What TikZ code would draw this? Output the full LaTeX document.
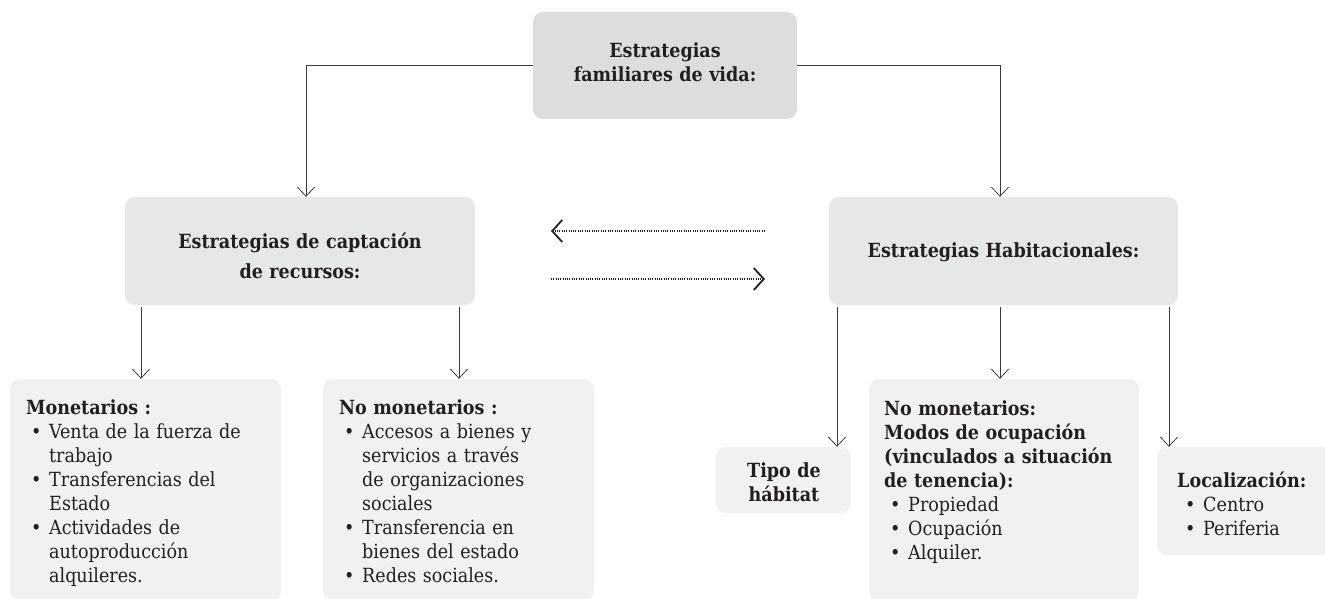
\documentclass[tikz,border=0pt]{standalone}
\usepackage{fontspec}
\setmainfont{DejaVuSerifCondensed.ttf}[BoldFont=DejaVuSerifCondensed-Bold.ttf]
\usetikzlibrary{arrows.meta}
\definecolor{boxA}{HTML}{DCDDDE}
\definecolor{boxB}{HTML}{E6E7E8}
\definecolor{boxC}{HTML}{F1F1F1}
\definecolor{ink}{HTML}{231F20}
\definecolor{linec}{HTML}{3A3A3A}
\newcommand{\bitem}[1]{\makebox[23pt][l]{\hspace*{5pt}\textbullet}#1}
\newcommand{\citem}[1]{\hspace*{23pt}#1}
\begin{document}
\begin{tikzpicture}[x=1pt,y=-1pt,
  boxs/.style={draw=none, rounded corners=10pt, inner sep=0pt},
  txt/.style={inner sep=0pt, text=ink, font=\fontsize{19.5}{24}\selectfont},
  ltxt/.style={txt, text width=265pt, align=left, anchor=base west},
  ctxt/.style={txt, text width=340pt, align=center, anchor=base},
  arr/.style={draw=linec, line width=0.8pt, -{Straight Barb[length=9pt,width=17pt,line width=0.8pt]}},
  dotarr/.style={draw=ink, line width=1.6pt, dash pattern=on 1pt off 1.3pt, -{Straight Barb[length=10pt,width=22pt,line width=1.8pt]}}]
\useasboundingbox (0,0) rectangle (1325,599);
% boxes
\node[boxs, fill=boxA, minimum width=264pt, minimum height=107pt] (top) at (665,65.5) {};
\node[boxs, fill=boxB, minimum width=350pt, minimum height=108pt] (capt) at (300,251) {};
\node[boxs, fill=boxB, minimum width=349pt, minimum height=108pt] (habit) at (1003.5,251) {};
\node[boxs, fill=boxC, minimum width=271pt, minimum height=222pt] (mon) at (145.5,490) {};
\node[boxs, fill=boxC, minimum width=271pt, minimum height=222pt] (nomon) at (458.5,490) {};
\node[boxs, fill=boxC, minimum width=135pt, minimum height=66pt] (tipo) at (783.5,480) {};
\node[boxs, fill=boxC, minimum width=270pt, minimum height=222pt] (modos) at (1004,490) {};
\node[boxs, fill=boxC, minimum width=190pt, minimum height=108pt] (loc) at (1252,501) {};
% texts
\node[ctxt] (ttop) at (665,58) {\bfseries Estrategias\\familiares de vida:};
\node[ctxt, font=\fontsize{19.5}{30}\selectfont] (tcapt) at (300,248) {\bfseries Estrategias de captación\\de recursos:};
\node[ctxt] (thabit) at (1003.5,257) {\bfseries Estrategias Habitacionales:};
\node[ltxt] (tmon) at (26,414) {\textbf{Monetarios :}\\
\bitem{Venta de la fuerza de}\\
\citem{trabajo}\\
\bitem{Transferencias del}\\
\citem{Estado}\\
\bitem{Actividades de}\\
\citem{autoproducción}\\
\citem{alquileres.}};
\node[ltxt] (tnomon) at (339,414) {\textbf{No monetarios :}\\
\bitem{Accesos a bienes y}\\
\citem{servicios a través}\\
\citem{de organizaciones}\\
\citem{sociales}\\
\bitem{Transferencia en}\\
\citem{bienes del estado}\\
\bitem{Redes sociales.}};
\node[ctxt, text width=130pt] (ttipo) at (784,477) {\bfseries Tipo de\\hábitat};
\node[ltxt] (tmodos) at (884,415) {\textbf{No monetarios:}\\
\textbf{Modos de ocupación}\\
\textbf{(vinculados a situación}\\
\textbf{de tenencia):}\\
\hspace*{1pt}\bitem{Propiedad}\\
\hspace*{1pt}\bitem{Ocupación}\\
\hspace*{1pt}\bitem{Alquiler.}};
\node[ltxt, text width=150pt] (tloc) at (1177,487) {\textbf{Localización:}\\
\hspace*{3pt}\bitem{Centro}\\
\hspace*{3pt}\bitem{Periferia}};
% connectors
\draw[arr] (top.west) -| ([xshift=6pt]capt.north);
\draw[arr] (top.east) -| ([xshift=-3.5pt]habit.north);
\coordinate (xa) at (141,0);
\coordinate (xb) at (459,0);
\coordinate (xc) at (837,0);
\coordinate (xd) at (1000,0);
\coordinate (xe) at (1169,0);
\draw[arr, shorten <=2pt] (capt.south -| xa) -- (mon.north -| xa);
\draw[arr, shorten <=2pt] (capt.south -| xb) -- (nomon.north -| xb);
\draw[arr, shorten <=2pt] (habit.south -| xc) -- (tipo.north -| xc);
\draw[arr, shorten <=2pt] (habit.south -| xd) -- (modos.north -| xd);
\draw[arr, shorten <=2pt] (habit.south -| xe) -- (loc.north -| xe);
% dotted exchange arrows
\coordinate (d1s) at (765,231);
\coordinate (d1e) at (551,231);
\coordinate (d2s) at (551,279);
\coordinate (d2e) at (765,279);
\draw[dotarr] (d1s) -- (d1e);
\draw[dotarr] (d2s) -- (d2e);
\end{tikzpicture}
\end{document}
